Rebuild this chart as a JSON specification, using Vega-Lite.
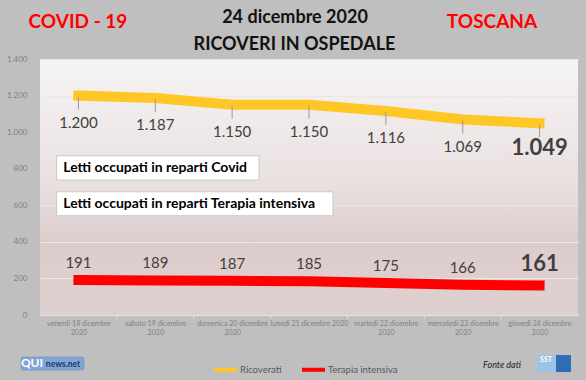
{
  "$schema": "https://vega.github.io/schema/vega-lite/v6.json",
  "width": 538,
  "height": 256,
  "autosize": {"type": "none"},
  "padding": {"left": 40, "top": 59, "right": 8, "bottom": 65},
  "background": "#bfbfbf",
  "config": {
    "font": "Lato",
    "locale": {"number": {"decimal": ",", "thousands": ".", "grouping": [3], "currency": ["", " €"]}},
    "view": {
      "stroke": null,
      "fill": {"gradient": "linear", "x1": 0, "y1": 0, "x2": 0, "y2": 1,
        "stops": [
          {"offset": 0, "color": "#f6f4f4"},
          {"offset": 0.5, "color": "#e9dfdf"},
          {"offset": 0.72, "color": "#ddcccc"},
          {"offset": 1, "color": "#dfd0d0"}
        ]}
    },
    "axisX": {
      "labelFontSize": 7.1, "labelColor": "#7f7f7f", "labelLineHeight": 9,
      "labelPadding": 4, "labelLimit": 200, "labelFlush": false, "labelOverlap": false,
      "ticks": false, "grid": false, "domainColor": "#e8e2e2"
    },
    "axisY": {
      "ticks": false, "domain": false, "labelPadding": 13,
      "labelFontSize": 8, "labelColor": "#7f7f7f", "labelOverlap": false,
      "gridColor": "#ece6e6", "gridWidth": 1
    }
  },
  "datasets": {
    "main": [
      {"giorno": 18, "serie": "Ricoverati", "valore": 1200},
      {"giorno": 19, "serie": "Ricoverati", "valore": 1187},
      {"giorno": 20, "serie": "Ricoverati", "valore": 1150},
      {"giorno": 21, "serie": "Ricoverati", "valore": 1150},
      {"giorno": 22, "serie": "Ricoverati", "valore": 1116},
      {"giorno": 23, "serie": "Ricoverati", "valore": 1069},
      {"giorno": 24, "serie": "Ricoverati", "valore": 1049},
      {"giorno": 18, "serie": "Terapia intensiva", "valore": 191},
      {"giorno": 19, "serie": "Terapia intensiva", "valore": 189},
      {"giorno": 20, "serie": "Terapia intensiva", "valore": 187},
      {"giorno": 21, "serie": "Terapia intensiva", "valore": 185},
      {"giorno": 22, "serie": "Terapia intensiva", "valore": 175},
      {"giorno": 23, "serie": "Terapia intensiva", "valore": 166},
      {"giorno": 24, "serie": "Terapia intensiva", "valore": 161}
    ],
    "uno": [{"k": 1}]
  },
  "layer": [
    {
      "data": {"name": "main"},
      "mark": {"type": "line", "strokeWidth": 10, "strokeCap": "square"},
      "encoding": {
        "x": {
          "field": "giorno", "type": "quantitative",
          "scale": {"domain": [17.5, 24.5], "nice": false, "zero": false},
          "axis": {"title": null, "values": [18, 19, 20, 21, 22, 23, 24], "labelExpr": "datum.value == 21 ? 'lunedì 21 dicembre 2020' : [['venerdì', 'sabato', 'domenica', 'lunedì', 'martedì', 'mercoledì', 'giovedì'][datum.value - 18] + ' ' + datum.value + ' dicembre', '2020']"}
        },
        "y": {
          "field": "valore", "type": "quantitative",
          "scale": {"domain": [0, 1400], "nice": false},
          "axis": {"title": null, "values": [0, 200, 400, 600, 800, 1000, 1200, 1400], "format": ",d"}
        },
        "color": {
          "field": "serie", "type": "nominal",
          "scale": {"domain": ["Ricoverati", "Terapia intensiva"], "range": ["#ffc726", "#ff0000"]},
          "legend": {
            "orient": "none", "legendX": 172, "legendY": 297, "direction": "horizontal",
            "title": null, "symbolType": "stroke", "symbolStrokeWidth": 4, "symbolSize": 529,
            "labelOffset": 1, "columnPadding": 12, "labelFontSize": 9.5, "labelColor": "#595959"
          }
        }
      }
    },
    {
      "data": {"name": "main"},
      "transform": [{"filter": "datum.serie == 'Ricoverati' && datum.giorno < 24"}],
      "mark": {"type": "rule", "color": "#e8e2e2", "strokeWidth": 1, "xOffset": 38.43},
      "encoding": {
        "x": {"field": "giorno", "type": "quantitative", "axis": {"title": null, "values": [18, 19, 20, 21, 22, 23, 24], "labelExpr": "datum.value == 21 ? 'lunedì 21 dicembre 2020' : [['venerdì', 'sabato', 'domenica', 'lunedì', 'martedì', 'mercoledì', 'giovedì'][datum.value - 18] + ' ' + datum.value + ' dicembre', '2020']"}},
        "y": {"datum": 0, "type": "quantitative", "axis": {"title": null, "values": [0, 200, 400, 600, 800, 1000, 1200, 1400], "format": ",d"}},
        "y2": {"datum": -22}
      }
    },
    {
      "data": {"name": "main"},
      "transform": [{"filter": "datum.serie == 'Ricoverati'"}],
      "mark": {"type": "rule", "color": "#9a9a9a", "strokeWidth": 1, "yOffset": 1, "y2Offset": 14},
      "encoding": {
        "x": {"field": "giorno", "type": "quantitative", "axis": {"title": null, "values": [18, 19, 20, 21, 22, 23, 24], "labelExpr": "datum.value == 21 ? 'lunedì 21 dicembre 2020' : [['venerdì', 'sabato', 'domenica', 'lunedì', 'martedì', 'mercoledì', 'giovedì'][datum.value - 18] + ' ' + datum.value + ' dicembre', '2020']"}},
        "y": {"field": "valore", "type": "quantitative", "axis": {"title": null, "values": [0, 200, 400, 600, 800, 1000, 1200, 1400], "format": ",d"}},
        "y2": {"field": "valore"}
      }
    },
    {
      "data": {"name": "main"},
      "transform": [{"filter": "datum.serie == 'Ricoverati' && datum.giorno != 24"}],
      "mark": {"type": "text", "dy": 27, "fontSize": 15, "color": "#404040", "baseline": "middle"},
      "encoding": {
        "x": {"field": "giorno", "type": "quantitative", "axis": {"title": null, "values": [18, 19, 20, 21, 22, 23, 24], "labelExpr": "datum.value == 21 ? 'lunedì 21 dicembre 2020' : [['venerdì', 'sabato', 'domenica', 'lunedì', 'martedì', 'mercoledì', 'giovedì'][datum.value - 18] + ' ' + datum.value + ' dicembre', '2020']"}},
        "y": {"field": "valore", "type": "quantitative", "axis": {"title": null, "values": [0, 200, 400, 600, 800, 1000, 1200, 1400], "format": ",d"}},
        "text": {"field": "valore", "type": "quantitative", "format": ",d"}
      }
    },
    {
      "data": {"name": "main"},
      "transform": [{"filter": "datum.serie == 'Ricoverati' && datum.giorno == 24"}],
      "mark": {"type": "text", "dy": 25, "fontSize": 22, "fontWeight": "bold", "color": "#404040", "baseline": "middle"},
      "encoding": {
        "x": {"field": "giorno", "type": "quantitative", "axis": {"title": null, "values": [18, 19, 20, 21, 22, 23, 24], "labelExpr": "datum.value == 21 ? 'lunedì 21 dicembre 2020' : [['venerdì', 'sabato', 'domenica', 'lunedì', 'martedì', 'mercoledì', 'giovedì'][datum.value - 18] + ' ' + datum.value + ' dicembre', '2020']"}},
        "y": {"field": "valore", "type": "quantitative", "axis": {"title": null, "values": [0, 200, 400, 600, 800, 1000, 1200, 1400], "format": ",d"}},
        "text": {"field": "valore", "type": "quantitative", "format": ",d"}
      }
    },
    {
      "data": {"name": "main"},
      "transform": [{"filter": "datum.serie == 'Terapia intensiva' && datum.giorno != 24"}],
      "mark": {"type": "text", "dy": -17, "fontSize": 15, "color": "#404040", "baseline": "middle"},
      "encoding": {
        "x": {"field": "giorno", "type": "quantitative", "axis": {"title": null, "values": [18, 19, 20, 21, 22, 23, 24], "labelExpr": "datum.value == 21 ? 'lunedì 21 dicembre 2020' : [['venerdì', 'sabato', 'domenica', 'lunedì', 'martedì', 'mercoledì', 'giovedì'][datum.value - 18] + ' ' + datum.value + ' dicembre', '2020']"}},
        "y": {"field": "valore", "type": "quantitative", "axis": {"title": null, "values": [0, 200, 400, 600, 800, 1000, 1200, 1400], "format": ",d"}},
        "text": {"field": "valore", "type": "quantitative", "format": ",d"}
      }
    },
    {
      "data": {"name": "main"},
      "transform": [{"filter": "datum.serie == 'Terapia intensiva' && datum.giorno == 24"}],
      "mark": {"type": "text", "dy": -22, "fontSize": 22, "fontWeight": "bold", "color": "#404040", "baseline": "middle"},
      "encoding": {
        "x": {"field": "giorno", "type": "quantitative", "axis": {"title": null, "values": [18, 19, 20, 21, 22, 23, 24], "labelExpr": "datum.value == 21 ? 'lunedì 21 dicembre 2020' : [['venerdì', 'sabato', 'domenica', 'lunedì', 'martedì', 'mercoledì', 'giovedì'][datum.value - 18] + ' ' + datum.value + ' dicembre', '2020']"}},
        "y": {"field": "valore", "type": "quantitative", "axis": {"title": null, "values": [0, 200, 400, 600, 800, 1000, 1200, 1400], "format": ",d"}},
        "text": {"field": "valore", "type": "quantitative", "format": ",d"}
      }
    },
    {
      "data": {"name": "uno"},
      "layer": [
        {
          "mark": {"type": "rect", "fill": "#ffffff", "stroke": "#c8c8c8", "strokeWidth": 1},
          "encoding": {
            "x": {"datum": 17.717, "type": "quantitative", "axis": {"title": null, "values": [18, 19, 20, 21, 22, 23, 24], "labelExpr": "datum.value == 21 ? 'lunedì 21 dicembre 2020' : [['venerdì', 'sabato', 'domenica', 'lunedì', 'martedì', 'mercoledì', 'giovedì'][datum.value - 18] + ' ' + datum.value + ' dicembre', '2020']"}}, "x2": {"datum": 20.35},
            "y": {"datum": 871, "type": "quantitative", "axis": {"title": null, "values": [0, 200, 400, 600, 800, 1000, 1200, 1400], "format": ",d"}}, "y2": {"datum": 738}
          }
        },
        {
          "mark": {"type": "rect", "fill": "#ffffff", "stroke": "#c8c8c8", "strokeWidth": 1},
          "encoding": {
            "x": {"datum": 17.717, "type": "quantitative", "axis": {"title": null, "values": [18, 19, 20, 21, 22, 23, 24], "labelExpr": "datum.value == 21 ? 'lunedì 21 dicembre 2020' : [['venerdì', 'sabato', 'domenica', 'lunedì', 'martedì', 'mercoledì', 'giovedì'][datum.value - 18] + ' ' + datum.value + ' dicembre', '2020']"}}, "x2": {"datum": 21.312},
            "y": {"datum": 674, "type": "quantitative", "axis": {"title": null, "values": [0, 200, 400, 600, 800, 1000, 1200, 1400], "format": ",d"}}, "y2": {"datum": 543}
          }
        },
        {
          "mark": {"type": "text", "text": "Letti occupati in reparti Covid", "align": "left", "baseline": "middle", "fontSize": 14, "fontWeight": "bold", "color": "#000000"},
          "encoding": {
            "x": {"datum": 17.803, "type": "quantitative", "axis": {"title": null, "values": [18, 19, 20, 21, 22, 23, 24], "labelExpr": "datum.value == 21 ? 'lunedì 21 dicembre 2020' : [['venerdì', 'sabato', 'domenica', 'lunedì', 'martedì', 'mercoledì', 'giovedì'][datum.value - 18] + ' ' + datum.value + ' dicembre', '2020']"}},
            "y": {"datum": 804, "type": "quantitative", "axis": {"title": null, "values": [0, 200, 400, 600, 800, 1000, 1200, 1400], "format": ",d"}}
          }
        },
        {
          "mark": {"type": "text", "text": "Letti occupati in reparti Terapia intensiva", "align": "left", "baseline": "middle", "fontSize": 14, "fontWeight": "bold", "color": "#000000"},
          "encoding": {
            "x": {"datum": 17.803, "type": "quantitative", "axis": {"title": null, "values": [18, 19, 20, 21, 22, 23, 24], "labelExpr": "datum.value == 21 ? 'lunedì 21 dicembre 2020' : [['venerdì', 'sabato', 'domenica', 'lunedì', 'martedì', 'mercoledì', 'giovedì'][datum.value - 18] + ' ' + datum.value + ' dicembre', '2020']"}},
            "y": {"datum": 607, "type": "quantitative", "axis": {"title": null, "values": [0, 200, 400, 600, 800, 1000, 1200, 1400], "format": ",d"}}
          }
        },
        {
          "mark": {"type": "text", "text": "COVID - 19", "align": "center", "baseline": "middle", "fontSize": 19, "fontWeight": "bold", "color": "#ff0000"},
          "encoding": {
            "x": {"datum": 17.994, "type": "quantitative", "axis": {"title": null, "values": [18, 19, 20, 21, 22, 23, 24], "labelExpr": "datum.value == 21 ? 'lunedì 21 dicembre 2020' : [['venerdì', 'sabato', 'domenica', 'lunedì', 'martedì', 'mercoledì', 'giovedì'][datum.value - 18] + ' ' + datum.value + ' dicembre', '2020']"}},
            "y": {"datum": 1600, "type": "quantitative", "axis": {"title": null, "values": [0, 200, 400, 600, 800, 1000, 1200, 1400], "format": ",d"}}
          }
        },
        {
          "mark": {"type": "text", "text": "TOSCANA", "align": "center", "baseline": "middle", "fontSize": 19, "fontWeight": "bold", "color": "#ff0000"},
          "encoding": {
            "x": {"datum": 23.381, "type": "quantitative", "axis": {"title": null, "values": [18, 19, 20, 21, 22, 23, 24], "labelExpr": "datum.value == 21 ? 'lunedì 21 dicembre 2020' : [['venerdì', 'sabato', 'domenica', 'lunedì', 'martedì', 'mercoledì', 'giovedì'][datum.value - 18] + ' ' + datum.value + ' dicembre', '2020']"}},
            "y": {"datum": 1600, "type": "quantitative", "axis": {"title": null, "values": [0, 200, 400, 600, 800, 1000, 1200, 1400], "format": ",d"}}
          }
        },
        {
          "mark": {"type": "text", "text": "24 dicembre 2020", "align": "center", "baseline": "middle", "fontSize": 18, "fontWeight": "bold", "color": "#111111"},
          "encoding": {
            "x": {"datum": 20.818, "type": "quantitative", "axis": {"title": null, "values": [18, 19, 20, 21, 22, 23, 24], "labelExpr": "datum.value == 21 ? 'lunedì 21 dicembre 2020' : [['venerdì', 'sabato', 'domenica', 'lunedì', 'martedì', 'mercoledì', 'giovedì'][datum.value - 18] + ' ' + datum.value + ' dicembre', '2020']"}},
            "y": {"datum": 1624, "type": "quantitative", "axis": {"title": null, "values": [0, 200, 400, 600, 800, 1000, 1200, 1400], "format": ",d"}}
          }
        },
        {
          "mark": {"type": "text", "text": "RICOVERI IN OSPEDALE", "align": "center", "baseline": "middle", "fontSize": 18, "fontWeight": "bold", "color": "#111111"},
          "encoding": {
            "x": {"datum": 20.811, "type": "quantitative", "axis": {"title": null, "values": [18, 19, 20, 21, 22, 23, 24], "labelExpr": "datum.value == 21 ? 'lunedì 21 dicembre 2020' : [['venerdì', 'sabato', 'domenica', 'lunedì', 'martedì', 'mercoledì', 'giovedì'][datum.value - 18] + ' ' + datum.value + ' dicembre', '2020']"}},
            "y": {"datum": 1477, "type": "quantitative", "axis": {"title": null, "values": [0, 200, 400, 600, 800, 1000, 1200, 1400], "format": ",d"}}
          }
        },
        {
          "mark": {"type": "text", "text": "Fonte dati", "align": "center", "baseline": "middle", "fontSize": 9, "fontStyle": "italic", "color": "#262626"},
          "encoding": {
            "x": {"datum": 23.511, "type": "quantitative", "axis": {"title": null, "values": [18, 19, 20, 21, 22, 23, 24], "labelExpr": "datum.value == 21 ? 'lunedì 21 dicembre 2020' : [['venerdì', 'sabato', 'domenica', 'lunedì', 'martedì', 'mercoledì', 'giovedì'][datum.value - 18] + ' ' + datum.value + ' dicembre', '2020']"}},
            "y": {"datum": -276, "type": "quantitative", "axis": {"title": null, "values": [0, 200, 400, 600, 800, 1000, 1200, 1400], "format": ",d"}}
          }
        },
        {
          "mark": {"type": "rect", "fill": "#7fa6d6", "stroke": "#5b86bf", "strokeWidth": 0.5, "cornerRadius": 2},
          "encoding": {
            "x": {"datum": 17.253, "type": "quantitative", "axis": {"title": null, "values": [18, 19, 20, 21, 22, 23, 24], "labelExpr": "datum.value == 21 ? 'lunedì 21 dicembre 2020' : [['venerdì', 'sabato', 'domenica', 'lunedì', 'martedì', 'mercoledì', 'giovedì'][datum.value - 18] + ' ' + datum.value + ' dicembre', '2020']"}}, "x2": {"datum": 18.072},
            "y": {"datum": -230, "type": "quantitative", "axis": {"title": null, "values": [0, 200, 400, 600, 800, 1000, 1200, 1400], "format": ",d"}}, "y2": {"datum": -301}
          }
        },
        {
          "mark": {"type": "text", "text": "QUI", "align": "center", "baseline": "middle", "fontSize": 12, "fontWeight": "bold", "color": "#ffffff"},
          "encoding": {
            "x": {"datum": 17.396, "type": "quantitative", "axis": {"title": null, "values": [18, 19, 20, 21, 22, 23, 24], "labelExpr": "datum.value == 21 ? 'lunedì 21 dicembre 2020' : [['venerdì', 'sabato', 'domenica', 'lunedì', 'martedì', 'mercoledì', 'giovedì'][datum.value - 18] + ' ' + datum.value + ' dicembre', '2020']"}},
            "y": {"datum": -265, "type": "quantitative", "axis": {"title": null, "values": [0, 200, 400, 600, 800, 1000, 1200, 1400], "format": ",d"}}
          }
        },
        {
          "mark": {"type": "text", "text": "news.net", "align": "center", "baseline": "middle", "fontSize": 8.5, "fontWeight": "bold", "color": "#1f3864"},
          "encoding": {
            "x": {"datum": 17.799, "type": "quantitative", "axis": {"title": null, "values": [18, 19, 20, 21, 22, 23, 24], "labelExpr": "datum.value == 21 ? 'lunedì 21 dicembre 2020' : [['venerdì', 'sabato', 'domenica', 'lunedì', 'martedì', 'mercoledì', 'giovedì'][datum.value - 18] + ' ' + datum.value + ' dicembre', '2020']"}},
            "y": {"datum": -268, "type": "quantitative", "axis": {"title": null, "values": [0, 200, 400, 600, 800, 1000, 1200, 1400], "format": ",d"}}
          }
        },
        {
          "mark": {"type": "rect", "fill": "#9dc3e6"},
          "encoding": {
            "x": {"datum": 23.967, "type": "quantitative", "axis": {"title": null, "values": [18, 19, 20, 21, 22, 23, 24], "labelExpr": "datum.value == 21 ? 'lunedì 21 dicembre 2020' : [['venerdì', 'sabato', 'domenica', 'lunedì', 'martedì', 'mercoledì', 'giovedì'][datum.value - 18] + ' ' + datum.value + ' dicembre', '2020']"}}, "x2": {"datum": 24.214},
            "y": {"datum": -219, "type": "quantitative", "axis": {"title": null, "values": [0, 200, 400, 600, 800, 1000, 1200, 1400], "format": ",d"}}, "y2": {"datum": -312}
          }
        },
        {
          "mark": {"type": "rect", "fill": "#2f6db5"},
          "encoding": {
            "x": {"datum": 24.214, "type": "quantitative", "axis": {"title": null, "values": [18, 19, 20, 21, 22, 23, 24], "labelExpr": "datum.value == 21 ? 'lunedì 21 dicembre 2020' : [['venerdì', 'sabato', 'domenica', 'lunedì', 'martedì', 'mercoledì', 'giovedì'][datum.value - 18] + ' ' + datum.value + ' dicembre', '2020']"}}, "x2": {"datum": 24.409},
            "y": {"datum": -219, "type": "quantitative", "axis": {"title": null, "values": [0, 200, 400, 600, 800, 1000, 1200, 1400], "format": ",d"}}, "y2": {"datum": -312}
          }
        },
        {
          "mark": {"type": "text", "text": "SST", "align": "center", "baseline": "middle", "fontSize": 7, "fontWeight": "bold", "color": "#ffffff"},
          "encoding": {
            "x": {"datum": 24.084, "type": "quantitative", "axis": {"title": null, "values": [18, 19, 20, 21, 22, 23, 24], "labelExpr": "datum.value == 21 ? 'lunedì 21 dicembre 2020' : [['venerdì', 'sabato', 'domenica', 'lunedì', 'martedì', 'mercoledì', 'giovedì'][datum.value - 18] + ' ' + datum.value + ' dicembre', '2020']"}},
            "y": {"datum": -246, "type": "quantitative", "axis": {"title": null, "values": [0, 200, 400, 600, 800, 1000, 1200, 1400], "format": ",d"}}
          }
        }
      ]
    }
  ]
}
